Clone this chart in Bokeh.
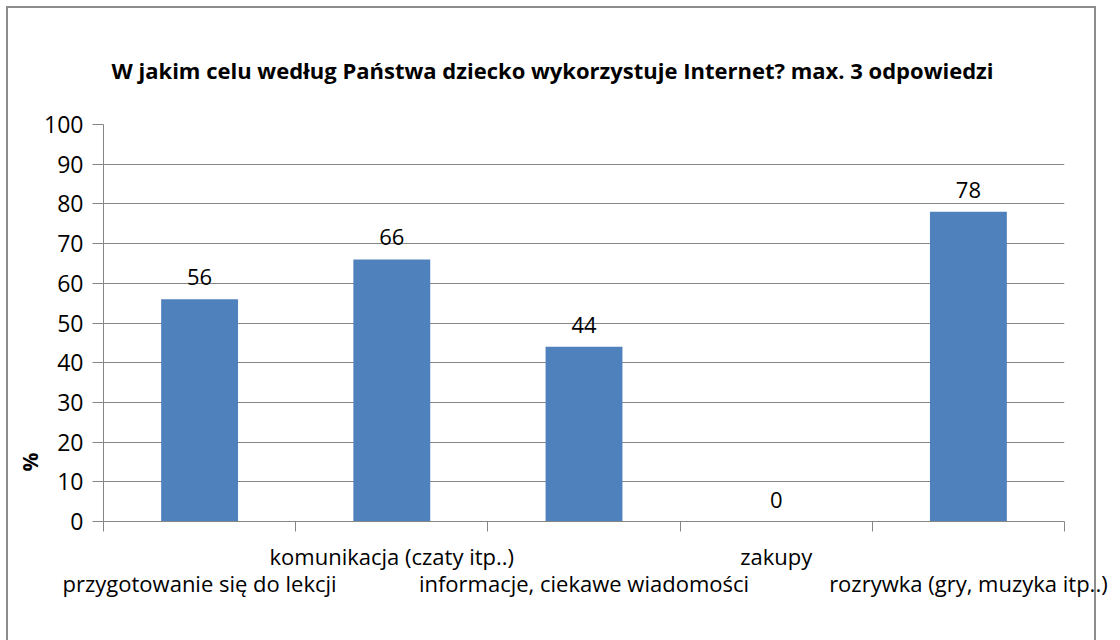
from bokeh.plotting import figure
from bokeh.models import ColumnDataSource, FixedTicker, Range1d, LinearAxis, Title
from bokeh.core.properties import value
from bokeh.embed import file_html
from bokeh.resources import INLINE

# ---- data ----
title_text = "W jakim celu według Państwa dziecko wykorzystuje Internet? max. 3 odpowiedzi"
categories = [
    "przygotowanie się do lekcji",
    "komunikacja (czaty itp..)",
    "informacje, ciekawe wiadomości",
    "zakupy",
    "rozrywka (gry, muzyka itp..)",
]
values = [56, 66, 44, 0, 78]
y_ticks = [0, 10, 20, 30, 40, 50, 60, 70, 80, 90, 100]
y_label = "%"

BAR = "#4F81BD"
GRID = "#868686"
FONT = "Open Sans"

n = len(categories)
idx = list(range(n))
label_texts = [str(v) for v in values]
src = ColumnDataSource(dict(x=idx, top=values, txt=label_texts))

W, H = 1120, 640
p = figure(width=W, height=H, output_backend="svg", toolbar_location=None,
           x_range=Range1d(-0.5, n - 0.5), y_range=Range1d(0, 100),
           min_border_left=103, min_border_right=W - 1064,
           min_border_top=124, min_border_bottom=H - 521)
p.outline_line_color = None
p.background_fill_color = "white"
p.border_fill_color = None
p.styles = {
    "background-color": "white",
    "background-image": ("linear-gradient(#8c8c8c,#8c8c8c),"
                         "linear-gradient(#8c8c8c,#8c8c8c),"
                         "linear-gradient(#8c8c8c,#8c8c8c)"),
    "background-size": "2px 640px, 1090px 2px, 2px 640px",
    "background-position": "6px 6px, 6px 6px, 1094px 6px",
    "background-repeat": "no-repeat",
}

p.vbar(x="x", top="top", width=0.4, bottom=0, source=src, fill_color=BAR, line_color=None)

# data labels above bars
p.text(x="x", y="top", text="txt", source=src, text_align="center",
       text_baseline="alphabetic", y_offset=-22, text_font=value(FONT),
       text_font_size="22px", text_color="black")

# title
p.add_layout(Title(text=title_text, align="left", offset=8, standoff=80,
                   text_font=FONT, text_font_style="bold", text_font_size="22px",
                   text_color="black"), "above")

# y axis
yax = p.yaxis[0]
yax.ticker = FixedTicker(ticks=y_ticks)
yax.axis_line_color = GRID
yax.major_tick_line_color = GRID
yax.major_tick_out = 11
yax.major_tick_in = 0
yax.minor_tick_line_color = None
yax.major_label_text_font = FONT
yax.major_label_text_font_size = "23px"
yax.major_label_text_color = "black"
yax.major_label_standoff = 9

# second left axis carrying only the "%" label, placed low on the axis
pct_pos = 15
pax = LinearAxis(ticker=FixedTicker(ticks=[pct_pos]),
                 major_label_overrides={pct_pos: y_label},
                 major_label_orientation="vertical",
                 major_label_text_font=FONT, major_label_text_font_style="bold",
                 major_label_text_font_size="21px", major_label_text_color="black",
                 major_label_standoff=-3, major_tick_out=0, major_tick_in=0,
                 axis_line_color=None, major_tick_line_color=None,
                 minor_tick_line_color=None)
p.add_layout(pax, "left")

# x axis: boundary ticks (minor) + upper row of labels
xax = p.xaxis[0]
upper = [i for i in idx if i % 2 == 1]
lower = [i for i in idx if i % 2 == 0]
boundaries = [i - 0.5 for i in range(n + 1)]
xax.ticker = FixedTicker(ticks=upper, minor_ticks=boundaries)
xax.axis_line_color = GRID
xax.major_tick_line_color = None
xax.major_tick_out = 0
xax.major_tick_in = 0
xax.minor_tick_line_color = GRID
xax.minor_tick_out = 10
xax.minor_tick_in = 0
xax.major_label_overrides = {i: categories[i] for i in upper}
xax.major_label_text_font = FONT
xax.major_label_text_font_size = "22px"
xax.major_label_text_color = "black"
xax.major_label_standoff = 9

# lower row of category labels
lax = LinearAxis(ticker=FixedTicker(ticks=lower),
                 major_label_overrides={i: categories[i] for i in lower},
                 major_label_text_font=FONT, major_label_text_font_size="22px",
                 major_label_text_color="black", major_label_standoff=-6,
                 major_tick_out=0, major_tick_in=0,
                 axis_line_color=None, major_tick_line_color=None,
                 minor_tick_line_color=None)
p.add_layout(lax, "below")

p.xgrid.grid_line_color = None
p.ygrid.ticker = FixedTicker(ticks=y_ticks)
p.ygrid.grid_line_color = GRID
p.ygrid.grid_line_width = 1

open("out.html", "w").write(file_html(p, INLINE))
